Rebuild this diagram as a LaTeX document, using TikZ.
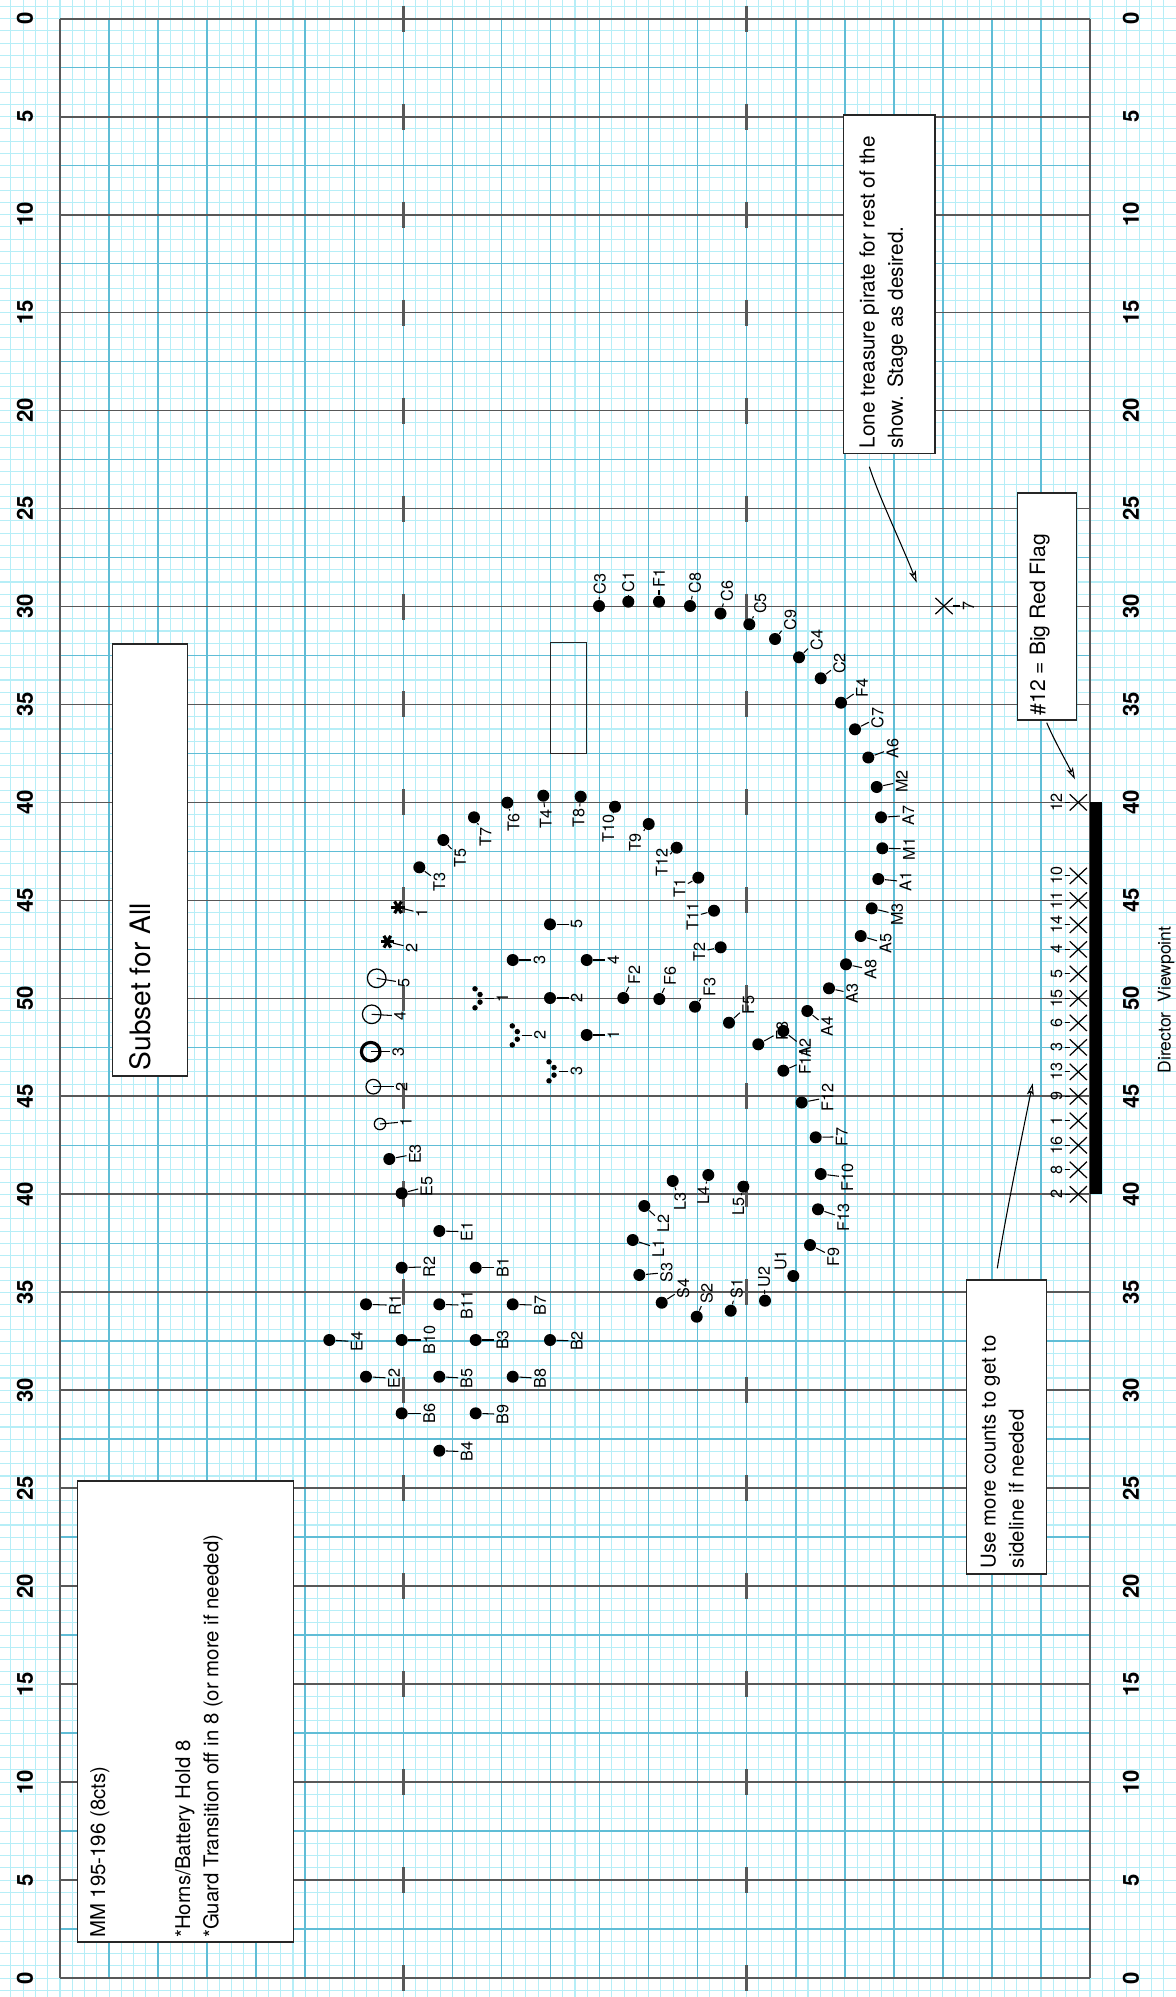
\documentclass[tikz,border=0pt]{standalone}
\usepackage{fontspec}
\setmainfont{TeX Gyre Heros}
\usetikzlibrary{shapes.misc, arrows.meta}

\definecolor{gridfine}{RGB}{182,238,247}
\definecolor{gridmid}{RGB}{96,189,214}
\definecolor{griddark}{RGB}{88,88,88}

\tikzset{
    fine/.style={draw=gridfine, line width=0.3pt},
    mid/.style={draw=gridmid, line width=0.45pt},
    yard/.style={draw=griddark, line width=0.5pt},
    hash/.style={draw=griddark, line width=0.9pt},
    dot/.style={circle, fill=black, inner sep=0pt, minimum size=0.12cm},
    tinydot/.style={circle, fill=black, inner sep=0pt, minimum size=0.055cm},
    prop/.style={circle, draw=black, inner sep=0pt},
    lbl/.style={rotate=90, inner sep=0.5pt, font=\fontsize{4.6}{5}\selectfont},
    leader/.style={line width=0.3pt},
    xmark/.style={cross out, draw=black, line width=0.35pt, inner sep=0pt,
        minimum width=0.16cm, minimum height=0.15cm},
    notebox/.style={draw=black!85, fill=white, line width=0.4pt, inner sep=0pt},
    notetext/.style={rotate=90, inner sep=0pt, align=left,
        font=\fontsize{5.8}{8}\selectfont},
    yardnum/.style={rotate=90, font=\bfseries\fontsize{6.3}{7}\selectfont},
    notearrow/.style={line width=0.3pt,
        -{Stealth[open, length=0.12cm, width=0.07cm, inset=0.03cm]}},
}

\begin{document}
\begin{tikzpicture}[x=0.01cm, y=-0.01cm]
    % Paper
    \fill[white] (0,0) rectangle (1176,1997);
    \useasboundingbox (0,0) rectangle (1176,1997);

    % Step grid
    \foreach \i in {-4,...,90}
        \draw[fine] ({60+\i*12.262},0) -- ({60+\i*12.262},1997);
    \foreach \j in {-1,...,161}
        \draw[fine] (0,{18.7+\j*12.246}) -- (1176,{18.7+\j*12.246});

    % 4-step lines inside the field
    \foreach \i in {4,8,...,80}
        \draw[mid] ({60+\i*12.262},18.7) -- ({60+\i*12.262},1978.1);
    \foreach \j in {4,12,...,156}
        \draw[mid] (60,{18.7+\j*12.246}) -- (1090,{18.7+\j*12.246});

    % Yard lines, sidelines, hashes
    \foreach \j in {0,8,...,160}
        \draw[yard] (60,{18.7+\j*12.246}) -- (1090,{18.7+\j*12.246});
    \foreach \i in {0,84}
        \draw[yard] ({60+\i*12.262},18.7) -- ({60+\i*12.262},1978.1);
    \foreach \j in {0,8,...,160} {
        \draw[hash] (403.3,{5.7+\j*12.246}) -- ++(0,26);
        \draw[hash] (746.7,{5.7+\j*12.246}) -- ++(0,26);
    }

    % Yard numbers
    \foreach \k in {0,...,20} {
        \pgfmathtruncatemacro{\yd}{5*min(\k,20-\k)}
        \node[yardnum] (yl\k) at (25,{18.7+\k*97.97}) {\yd};
        \node[yardnum] (yr\k) at (1131,{18.7+\k*97.97}) {\yd};
    }

    % Front sideline
    \fill[black] (1090,802.4) rectangle (1101.7,1194.3);
    \node[rotate=90, font=\fontsize{5}{6}\selectfont] (viewpoint) at (1166,1000) {Director\ \ Viewpoint};

    % Prop box
    \draw[line width=0.4pt, black!85] (550.7,642.7) rectangle (586.7,753.3);

    % Block
    \foreach \n/\x/\y/\lx/\ly in {
        E3/389.3/1159/415/1154, E5/401.7/1193.3/426.7/1186.7,
        E1/439.3/1231/466.7/1231.7, R2/401.7/1267.7/429.3/1266.7,
        B1/475.7/1267.7/502.7/1267.7, R1/366/1304.3/395/1305.3,
        B11/439.3/1304.3/466.7/1305.3, B7/512.7/1304.3/540/1305.3,
        E4/329.3/1340/356.7/1341.7, B10/401.7/1340/429.3/1340,
        B3/475.7/1340/502.7/1340, B2/550/1340/576.7/1341,
        E2/366/1376.7/394/1378.3, B5/439.3/1376.7/466.7/1378.3,
        B8/512.7/1376.7/540/1378.3, B6/401.7/1413.3/429.3/1413.3,
        B9/475.7/1413.3/502.7/1414.3, B4/439.3/1450.7/466.7/1451.7} {
        \node[dot] (\n) at (\x,\y) {};
        \node[lbl] (\n-l) at (\lx,\ly) {\n};
        \draw[leader] (\n) -- (\n-l);
    }

    % T arc
    \foreach \n/\x/\y/\lx/\ly in {
        T3/419.3/867.3/439.3/882, T5/443.3/840/460/858.3,
        T7/474/817.3/485.5/836.7, T6/507.3/802.7/513.5/822.5,
        T4/543.3/795.7/545.7/819, T8/580.7/796.7/578.5/818.3,
        T10/615/806.7/608.3/828.3, T9/648.7/824/635.2/842.5,
        T12/676.7/847.7/661.7/862.5, T1/698.3/877.7/679.5/888.3,
        T11/714/910.7/692.5/916.7, T2/720.7/947.3/699.2/951.7} {
        \node[dot] (\n) at (\x,\y) {};
        \node[lbl] (\n-l) at (\lx,\ly) {\n};
        \draw[leader] (\n) -- (\n-l);
    }

    % Big curve
    \foreach \n/\x/\y/\lx/\ly in {
        F2/623.3/998/634.3/975, F6/659.3/999/670/976,
        F3/695/1006.7/709.7/986.7, F5/729/1022.7/748.3/1005,
        F8/758.3/1044.3/782/1031, A2/783.3/1031/805/1048,
        F11/783.3/1070.7/805/1061, A4/807.3/1011/827/1026.7,
        A3/829/988.3/852/993.3, A8/846/964.3/870.5/969.5,
        A5/860.7/936/885.5/943.3, M3/871.7/908.3/897/914.5,
        A1/878.3/879/905.5/881.7, M1/882.3/848.3/909/848.8,
        A7/881/817.3/908.3/815.5, M2/876.7/787/901.7/781.7,
        A6/868.3/757.5/892.5/748.5, C7/855/729.3/877.5/717.8,
        F4/841/702.7/862/688.3, C2/820.7/678.3/839.5/663.5,
        C4/799/657.3/816.7/640.3, C9/775/639/790.3/620,
        C5/749.3/624.3/760.3/603.5, C6/720.5/613.5/727/590.7,
        C8/690/606/695/583, F1/659/601.7/659/578.3,
        C1/628.3/601.7/628.3/581.7, C3/599/606/599.7/584} {
        \node[dot] (\n) at (\x,\y) {};
        \node[lbl] (\n-l) at (\lx,\ly) {\n};
        \draw[leader] (\n) -- (\n-l);
    }

    % Lower arc and inner ring
    \foreach \n/\x/\y/\lx/\ly in {
        F12/801.7/1102.5/827.5/1097.5, F7/815.7/1137.3/841.7/1136.8,
        F10/820.7/1174/847.3/1177.3, F13/818/1209.3/843.3/1217.8,
        F9/810/1245/833.3/1256.7, U1/793.3/1276/780.5/1260.5,
        U2/765/1300.7/764/1277, S1/730.7/1310.7/736.7/1288.3,
        S2/696.7/1316.7/706.7/1293.7, S4/661.7/1302.7/683.3/1288.7,
        S3/639.3/1275/666.5/1272.5, L1/632.7/1240/658.3/1248.3,
        L2/644.3/1206/663.3/1223.3, L3/672.7/1181/680/1201.7,
        L4/708.3/1175/703.3/1195, L5/743.3/1186.7/738.3/1206.7} {
        \node[dot] (\n) at (\x,\y) {};
        \node[lbl] (\n-l) at (\lx,\ly) {\n};
        \draw[leader] (\n) -- (\n-l);
    }

    % Numbered spots
    \foreach \n/\x/\y in {5/550/924.3, 3/512.7/960, 4/586.7/960, 2/550/998, 1/586.7/1035} {
        \node[dot] (pt\n) at (\x,\y) {};
        \node[lbl] (pt\n-l) at ({\x+26.7},\y) {\n};
        \draw[leader] (pt\n) -- (pt\n-l);
    }

    % Small groups
    \foreach \n/\x/\y in {1/480/998.3, 2/517.3/1035.4, 3/554/1071.3} {
        \node[inner sep=0pt, minimum size=0.08cm] (grp\n) at (\x,\y) {};
        \foreach \dx/\dy [count=\c] in {-5/-9.5, 0/-3.8, 0/3.8, -5/9.5}
            \node[tinydot] (grp\n-\c) at ([shift={(\dx,\dy)}]grp\n) {};
        \node[lbl] (grp\n-l) at ({\x+22.5},\y) {\n};
        \draw[leader] (grp\n) -- (grp\n-l);
    }

    % Circles
    \foreach \n/\x/\y/\r/\w/\lx/\ly in {
        5/376.7/978.3/9.3/0.35/404/982.7, 4/371.7/1014.3/9.3/0.35/400/1016,
        3/370.7/1051.7/9.3/0.9/398.3/1051.7, 2/373.3/1086.7/7.3/0.35/401.7/1086.7,
        1/380/1124/5.7/0.35/406/1121.7} {
        \node[prop, line width=\w pt, minimum size=\r*0.02cm] (circ\n) at (\x,\y) {};
        \node[lbl] (circ\n-l) at (\lx,\ly) {\n};
        \draw[leader] (circ\n.center) -- (circ\n-l);
    }

    % Asterisks
    \foreach \n/\x/\y/\lx/\ly in {1/398/907.3/421.7/913.3, 2/387.3/941.7/411.7/947.7} {
        \node[inner sep=0pt, minimum size=0.1cm] (ast\n) at (\x,\y) {};
        \foreach \a in {0,60,120}
            \draw[line width=0.9pt] ([shift={(\a:6.8)}]ast\n.center) -- ([shift={(\a+180:6.8)}]ast\n.center);
        \node[lbl] (ast\n-l) at (\lx,\ly) {\n};
        \draw[leader] (ast\n) -- (ast\n-l);
    }

    % Sideline flags
    \foreach \n/\y in {12/802.4, 10/875.9, 11/900.4, 14/924.9, 4/949.4,
        5/973.9, 15/998.4, 6/1022.9, 3/1047.4, 13/1071.9, 9/1096.4,
        1/1120.8, 16/1145.3, 8/1169.8, 2/1194.3} {
        \node[xmark] (flag\n) at (1078.3,\y) {};
        \node[lbl] (flag\n-l) at (1056.5,\y) {\n};
        \draw[leader] (flag\n-l) -- (flag\n);
    }
    \node[xmark] (flag7) at (944,606) {};
    \node[lbl] (flag7-l) at (968.5,606) {7};
    \draw[leader] (flag7) -- (flag7-l);

    % Notes
    \node[notebox, minimum width=2.16cm, minimum height=4.607cm] (mmbox) at (185.3,1711.4) {};
    \node[notetext, anchor=north west] (mmtext) at ([shift={(13,-4)}]mmbox.south west)
        {MM 195-196 (8cts)\\[16.2pt]*Horns/Battery Hold 8\\*Guard Transition off in 8 (or more if needed)};

    \node[notebox, minimum width=0.75cm, minimum height=4.32cm] (subsetbox) at (149.8,860) {};
    \node[notetext, font=\fontsize{8}{10}\selectfont, anchor=north west] (subsettext)
        at ([shift={(17,-6)}]subsetbox.south west) {Subset for All};

    \node[notebox, minimum width=0.917cm, minimum height=3.383cm] (lonebox) at (889.2,284.2) {};
    \node[notetext, font=\fontsize{5.9}{8.05}\selectfont, anchor=north west] (lonetext)
        at ([shift={(16,-5)}]lonebox.south west) {Lone treasure pirate for rest of the\\show. Stage as desired.};

    \node[notebox, minimum width=0.59cm, minimum height=2.27cm] (flagbox) at (1047.2,606.5) {};
    \node[notetext, font=\fontsize{6}{8}\selectfont, anchor=north west] (flagtext)
        at ([shift={(12,-5)}]flagbox.south west) {\#12 = Big Red Flag};

    \node[notebox, minimum width=0.8cm, minimum height=2.94cm] (countbox) at (1006.7,1427) {};
    \node[notetext, anchor=north west] (counttext)
        at ([shift={(14,-6)}]countbox.south west) {Use more counts to get to\\sideline if needed};

    % Note arrows
    \coordinate (lonetail) at (869.3,466.7);
    \coordinate (lonehead) at (916.7,582.7);
    \draw[notearrow] (lonetail) .. controls (879,497) and (903,547) .. (lonehead);
    \coordinate (flagtail) at (1046.7,722.7);
    \coordinate (flaghead) at (1075,779.3);
    \draw[notearrow] (flagtail) .. controls (1055,742) and (1064,757) .. (flaghead);
    \coordinate (counttail) at (997.3,1268.3);
    \coordinate (counthead) at (1032.7,1083.3);
    \draw[notearrow] (counttail) .. controls (1004,1225) and (1019,1150) .. (counthead);
\end{tikzpicture}
\end{document}
